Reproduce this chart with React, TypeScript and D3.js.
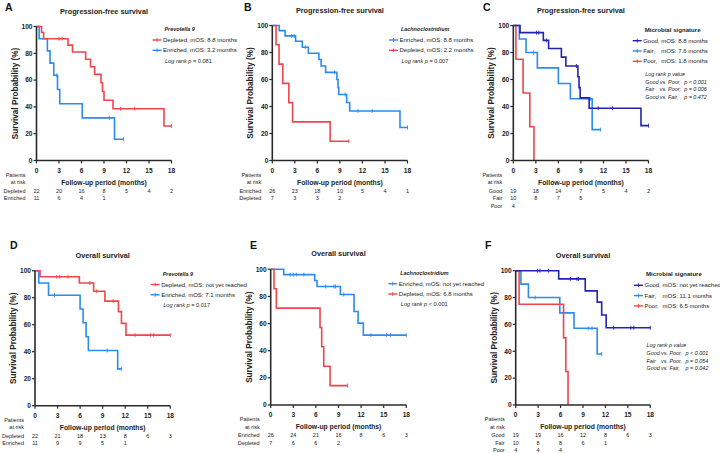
import React from 'react';
import * as d3 from 'd3';

type Pt = [number, number];

const RED = '#f0454c';
const LBLUE = '#2a8cf0';
const DBLUE = '#2323b2';

const monthTicks = [0, 3, 6, 9, 12, 15, 18];
const survTicks = [0, 20, 40, 60, 80, 100];

// A: PFS, Prevotella 9
const aDepletedSteps: Pt[] = [[0, 100], [0.67, 95.5], [0.95, 90.9], [4.2, 86.1], [4.8, 81], [6.55, 75.6], [7.2, 70], [7.75, 64.3], [8.6, 58], [8.8, 51.5], [9.0, 45], [10.2, 38.6], [17.0, 25.7]];
const aDepletedCensor = [3.0, 3.4, 11.2, 13.1, 18];
const aEnrichedSteps: Pt[] = [[0, 100], [0.35, 90.9], [1.45, 81.8], [1.8, 72.7], [2.3, 63.6], [2.8, 53], [3.1, 42.4], [6.1, 31.8], [10.4, 15.9]];
const aEnrichedCensor = [2.7, 9.7, 11.6];
const aRiskDepleted = [22, 20, 16, 8, 5, 4, 2];
const aRiskEnriched = [11, 6, 4, 1];

// B: PFS, Lachnoclostridium
const bEnrichedSteps: Pt[] = [[0, 100], [0.93, 96.2], [1.7, 92.3], [3.1, 88.3], [4.0, 83.9], [4.8, 79.5], [6.2, 74.8], [6.5, 70], [7.1, 65.3], [8.6, 60], [8.75, 54], [8.85, 48.9], [9.9, 43], [10.3, 36.7], [17.0, 24.5]];
const bEnrichedCensor = [2.6, 2.9, 4.4, 8.3, 9.7, 11.4, 13.3, 18];
const bDepletedSteps: Pt[] = [[0, 100], [0.5, 85.7], [0.9, 71.4], [1.4, 57.1], [2.2, 42.9], [2.7, 28.6], [7.7, 14.3]];
const bDepletedCensor = [10.2];
const bRiskEnriched = [26, 23, 18, 10, 5, 4, 1];
const bRiskDepleted = [7, 3, 3, 2];

// C: PFS, Microbial signature
const cGoodSteps: Pt[] = [[0, 100], [0.9, 94.7], [4.0, 89], [4.7, 83], [6.4, 76.6], [7.0, 70], [8.6, 62], [8.75, 54], [8.9, 46.4], [10.1, 38.7], [17.0, 25.8]];
const cGoodCensor = [3.1, 3.4, 4.4, 8.4, 11.3, 13.2, 18];
const cFairSteps: Pt[] = [[0, 100], [0.8, 90], [1.7, 80], [3.2, 68.6], [6.0, 57], [7.6, 45.7], [10.5, 22.9]];
const cFairCensor = [2.7, 10.3, 11.6];
const cPoorSteps: Pt[] = [[0, 100], [0.35, 75], [1.3, 50], [2.2, 25], [2.75, 0]];
const cPoorCensor: number[] = [];
const cRiskGood = [19, 18, 14, 7, 5, 4, 2];
const cRiskFair = [10, 8, 7, 5];
const cRiskPoor = [4];

// D: OS, Prevotella 9
const dDepletedSteps: Pt[] = [[0, 100], [0.67, 95.5], [5.9, 90.9], [7.8, 84.8], [9.3, 77.5], [11.1, 69.7], [11.5, 61], [12.1, 52.3]];
const dDepletedCensor = [2.9, 3.3, 4.4, 7.3, 8.2, 10.4, 13.3, 15.4, 15.8, 18];
const dEnrichedSteps: Pt[] = [[0, 100], [0.5, 90.9], [1.8, 81.8], [6.0, 71.6], [6.4, 61.4], [6.8, 51.1], [7.1, 40.9], [11.0, 27.3]];
const dEnrichedCensor = [2.6, 9.6, 11.5];
const dRiskDepleted = [22, 21, 18, 13, 8, 6, 3];
const dRiskEnriched = [11, 9, 9, 5, 1];

// E: OS, Lachnoclostridium
const eEnrichedSteps: Pt[] = [[0, 100], [1.73, 96.1], [5.84, 91.7], [6.15, 87.3], [9.25, 81.4], [11.06, 68.9], [11.6, 60.3], [12.3, 51.5]];
const eEnrichedCensor = [2.6, 3.0, 3.4, 4.4, 7.3, 8.4, 8.6, 9.7, 13.3, 15.35, 15.9, 18];
const eDepletedSteps: Pt[] = [[0, 100], [0.44, 85.7], [0.75, 71.4], [6.55, 57.1], [6.77, 42.9], [7.04, 28.6], [7.88, 14.3]];
const eDepletedCensor = [10.2];
const eRiskEnriched = [26, 24, 21, 16, 8, 6, 3];
const eRiskDepleted = [7, 6, 6, 2];

// F: OS, Microbial signature
const fGoodSteps: Pt[] = [[0, 100], [5.75, 93.9], [9.3, 85], [10.9, 76.6], [11.5, 67], [12.1, 57.5]];
const fGoodCensor = [2.9, 3.25, 4.4, 7.3, 8.2, 8.4, 13.1, 15.4, 15.8, 18];
const fFairSteps: Pt[] = [[0, 100], [0.7, 90], [1.7, 80], [5.9, 68.6], [7.8, 57.1], [10.9, 38]];
const fFairCensor = [2.6, 9.7, 10.2, 11.5];
const fPoorSteps: Pt[] = [[0, 100], [0.45, 75], [6.4, 50], [6.7, 25], [7.0, 0]];
const fPoorCensor: number[] = [];
const fRiskGood = [19, 19, 16, 12, 8, 6, 3];
const fRiskFair = [10, 8, 8, 6, 1];
const fRiskPoor = [4, 4, 4];

type Series = { name: string; mos: string; color: string; steps: Pt[]; censor: number[] };
type Panel = {
  letter: string; title: string; group: string; groupItalic: boolean;
  series: Series[]; drawOrder: number[];
  logRank?: string; logRows?: string[][];
  risk: { name: string; values: number[] }[];
  x0: number; x1: number; yTop: number; yBot: number;
  lx: number; ly: number; letterX: number; letterY: number; logY?: number; aligned: boolean;
};

const panels: Panel[] = [
  {
    letter: 'A', title: 'Progression-free survival', group: 'Prevotella 9', groupItalic: true,
    series: [
      { name: 'Depleted,', mos: 'mOS: 8.8 months', color: RED, steps: aDepletedSteps, censor: aDepletedCensor },
      { name: 'Enriched,', mos: 'mOS: 3.2 months', color: LBLUE, steps: aEnrichedSteps, censor: aEnrichedCensor },
    ], drawOrder: [1, 0],
    logRank: '= 0.081',
    risk: [{ name: 'Depleted', values: aRiskDepleted }, { name: 'Enriched', values: aRiskEnriched }],
    x0: 36.5, x1: 171.5, yTop: 26.5, yBot: 160.5, lx: 152.5, ly: 31, letterX: 5, letterY: 10.5, aligned: false,
  },
  {
    letter: 'B', title: 'Progression-free survival', group: 'Lachnoclostridium', groupItalic: true,
    series: [
      { name: 'Enriched,', mos: 'mOS: 8.8 months', color: LBLUE, steps: bEnrichedSteps, censor: bEnrichedCensor },
      { name: 'Depleted,', mos: 'mOS: 2.2 months', color: RED, steps: bDepletedSteps, censor: bDepletedCensor },
    ], drawOrder: [0, 1],
    logRank: '= 0.007',
    risk: [{ name: 'Enriched', values: bRiskEnriched }, { name: 'Depleted', values: bRiskDepleted }],
    x0: 272.3, x1: 407.5, yTop: 25.5, yBot: 160.5, lx: 389, ly: 31, letterX: 244, letterY: 10.5, aligned: false,
  },
  {
    letter: 'C', title: 'Progression-free survival', group: 'Microbial signature', groupItalic: false,
    series: [
      { name: 'Good,', mos: 'mOS: 8.8 months', color: DBLUE, steps: cGoodSteps, censor: cGoodCensor },
      { name: 'Fair,', mos: 'mOS: 7.6 months', color: LBLUE, steps: cFairSteps, censor: cFairCensor },
      { name: 'Poor,', mos: 'mOS: 1.8 months', color: RED, steps: cPoorSteps, censor: cPoorCensor },
    ], drawOrder: [1, 2, 0],
    logRows: [['Good', 'vs. Poor,', 'p < 0.001'], ['Fair', 'vs. Poor;', 'p = 0.006'], ['Good', 'vs. Fair,', 'p = 0.472']],
    risk: [{ name: 'Good', values: cRiskGood }, { name: 'Fair', values: cRiskFair }, { name: 'Poor', values: cRiskPoor }],
    x0: 513.3, x1: 648.5, yTop: 25.5, yBot: 160.5, lx: 632.7, ly: 31.7, letterX: 483, letterY: 10.5, logY: 75.5, aligned: true,
  },
  {
    letter: 'D', title: 'Overall survival', group: 'Prevotella 9', groupItalic: true,
    series: [
      { name: 'Depleted,', mos: 'mOS: not yet reached', color: RED, steps: dDepletedSteps, censor: dDepletedCensor },
      { name: 'Enriched,', mos: 'mOS: 7.1 months', color: LBLUE, steps: dEnrichedSteps, censor: dEnrichedCensor },
    ], drawOrder: [1, 0],
    logRank: '= 0.017',
    risk: [{ name: 'Depleted', values: dRiskDepleted }, { name: 'Enriched', values: dRiskEnriched }],
    x0: 35, x1: 170.3, yTop: 270.7, yBot: 405.7, lx: 150.7, ly: 275.5, letterX: 10, letterY: 249, aligned: false,
  },
  {
    letter: 'E', title: 'Overall survival', group: 'Lachnoclostridium', groupItalic: true,
    series: [
      { name: 'Enriched,', mos: 'mOS: not yet reached', color: LBLUE, steps: eEnrichedSteps, censor: eEnrichedCensor },
      { name: 'Depleted,', mos: 'mOS: 6.8 months', color: RED, steps: eDepletedSteps, censor: eDepletedCensor },
    ], drawOrder: [0, 1],
    logRank: '< 0.001',
    risk: [{ name: 'Enriched', values: eRiskEnriched }, { name: 'Depleted', values: eRiskDepleted }],
    x0: 270.7, x1: 406.3, yTop: 269.3, yBot: 405, lx: 388.3, ly: 274.7, letterX: 250, letterY: 249, aligned: false,
  },
  {
    letter: 'F', title: 'Overall survival', group: 'Microbial signature', groupItalic: false,
    series: [
      { name: 'Good,', mos: 'mOS: not yet reached', color: DBLUE, steps: fGoodSteps, censor: fGoodCensor },
      { name: 'Fair,', mos: 'mOS: 11.1 months', color: LBLUE, steps: fFairSteps, censor: fFairCensor },
      { name: 'Poor,', mos: 'mOS: 6.5 months', color: RED, steps: fPoorSteps, censor: fPoorCensor },
    ], drawOrder: [1, 2, 0],
    logRows: [['Good', 'vs. Poor,', 'p < 0.001'], ['Fair', 'vs. Poor,', 'p = 0.054'], ['Good', 'vs. Fair,', 'p = 0.042']],
    risk: [{ name: 'Good', values: fRiskGood }, { name: 'Fair', values: fRiskFair }, { name: 'Poor', values: fRiskPoor }],
    x0: 515.7, x1: 650.3, yTop: 270.7, yBot: 405, lx: 634, ly: 276.3, letterX: 485, letterY: 249, logY: 347, aligned: true,
  },
];

const FONT = '"Liberation Sans", Arial, Helvetica, sans-serif';
const TXT = '#222';
const AXIS = '#2a2a2a';

function stepValue(steps: Pt[], t: number): number {
  let v = steps[0][1];
  for (const [st, s] of steps) if (st <= t) v = s;
  return v;
}

function PanelView({ p }: { p: Panel }) {
  const x = d3.scaleLinear().domain([0, 18]).range([p.x0, p.x1]);
  const y = d3.scaleLinear().domain([0, 100]).range([p.yBot, p.yTop]);
  const line = d3.line<Pt>().x(d => x(d[0])).y(d => y(d[1])).curve(d3.curveStepAfter);
  const cx = (p.x0 + p.x1) / 2;
  const cy = (p.yTop + p.yBot) / 2;
  const textX = p.lx + 10.5;
  return (
    <g fontFamily={FONT}>
      <text x={p.letterX} y={p.letterY} fontSize={10.5} fontWeight="bold" fill="#111">{p.letter}</text>
      <text x={cx} y={p.yTop - 13} fontSize={7.3} fontWeight="bold" textAnchor="middle" fill={TXT}>{p.title}</text>
      {p.drawOrder.map(i => {
        const s = p.series[i];
        const last = s.steps[s.steps.length - 1];
        const end = Math.max(last[0], ...(s.censor.length ? s.censor : [last[0]]));
        const pts: Pt[] = [...s.steps];
        if (end > last[0]) pts.push([end, last[1]]);
        return (
          <g key={i}>
            <path d={line(pts) || ''} fill="none" stroke={s.color} strokeWidth={1.6} />
            {s.censor.map((t, k) => (
              <line key={k} x1={x(t)} x2={x(t)} y1={y(stepValue(s.steps, t)) - 2} y2={y(stepValue(s.steps, t)) + 2}
                stroke={s.color} strokeWidth={0.9} />
            ))}
          </g>
        );
      })}
      <line x1={p.x0} x2={p.x0} y1={p.yTop} y2={p.yBot} stroke={AXIS} strokeWidth={1.6} />
      <line x1={p.x0} x2={p.x1} y1={p.yBot} y2={p.yBot} stroke={AXIS} strokeWidth={1.6} />
      {survTicks.map(v => (
        <g key={'y' + v}>
          <line x1={p.x0 - 3} x2={p.x0} y1={y(v)} y2={y(v)} stroke={AXIS} strokeWidth={1.2} />
          <text x={p.x0 - 4} y={y(v)} dy="0.35em" fontSize={6.6} fontWeight="bold" textAnchor="end" fill={TXT}>{v}</text>
        </g>
      ))}
      {monthTicks.map(v => (
        <g key={'x' + v}>
          <line x1={x(v)} x2={x(v)} y1={p.yBot} y2={p.yBot + 3} stroke={AXIS} strokeWidth={1.2} />
          <text x={x(v)} y={p.yBot + 12} fontSize={6.6} fontWeight="bold" textAnchor="middle" fill={TXT}>{v}</text>
        </g>
      ))}
      <text transform={`translate(${p.x0 - 21.7},${cy}) rotate(-90)`} dy="0.35em" fontSize={8.2} fontWeight="bold" textAnchor="middle" fill={TXT}>Survival Probability (%)</text>
      <text x={cx} y={p.yBot + 24} fontSize={6.8} fontWeight="bold" textAnchor="middle" fill={TXT}>Follow-up period (months)</text>
      <text x={p.x0 - 11} y={p.yBot + 16} fontSize={5.5} textAnchor="end" fill={TXT}>Patients</text>
      <text x={p.x0 - 11} y={p.yBot + 23.5} fontSize={5.5} textAnchor="end" fill={TXT}>at risk</text>
      {p.risk.map((r, ri) => (
        <g key={r.name}>
          <text x={p.x0 - 11} y={p.yBot + 32 + ri * 7.5} fontSize={5.5} textAnchor="end" fill={TXT}>{r.name}</text>
          {r.values.map((v, vi) => (
            <text key={vi} x={x(monthTicks[vi])} y={p.yBot + 32 + ri * 7.5} fontSize={5.5} textAnchor="middle" fill={TXT}>{v}</text>
          ))}
        </g>
      ))}
      <text x={p.lx + 12} y={p.ly} fontSize={p.groupItalic ? 5.4 : 6.1} fontWeight="bold" fontStyle={p.groupItalic ? 'italic' : 'normal'} fill={TXT}>{p.group}</text>
      {p.series.map((s, i) => {
        const by = p.ly + 11 + i * 10.3;
        const ly = by - 2;
        return (
          <g key={'l' + i}>
            <line x1={p.lx} x2={p.lx + 9} y1={ly} y2={ly} stroke={s.color} strokeWidth={1.4} />
            <line x1={p.lx + 4.5} x2={p.lx + 4.5} y1={ly - 2} y2={ly + 2} stroke={s.color} strokeWidth={0.9} />
            {p.aligned ? (
              <>
                <text x={textX} y={by} fontSize={6} fill={TXT}>{s.name}</text>
                <text x={textX + 18} y={by} fontSize={6} fill={TXT}>{s.mos}</text>
              </>
            ) : (
              <text x={textX} y={by} fontSize={6} fill={TXT}>{s.name + ' ' + s.mos}</text>
            )}
          </g>
        );
      })}
      {p.logRank && (
        <text x={p.lx + 12.5} y={p.ly + 11 + p.series.length * 10.3} fontSize={5.6} fill={TXT}>
          <tspan fontStyle="italic">Log rank p</tspan> {p.logRank}
        </text>
      )}
      {p.logRows && p.logY !== undefined && (
        <g fontSize={5.4} fontStyle="italic" fill={TXT}>
          <text x={p.lx + 12.5} y={p.logY}>Log rank p value</text>
          {p.logRows.map((r, i) => (
            <g key={'lr' + i}>
              <text x={p.lx + 12.5} y={p.logY + 8 + i * 7.6}>{r[0]}</text>
              <text x={p.lx + 12.5 + 14.5} y={p.logY + 8 + i * 7.6}>{r[1]}</text>
              <text x={p.lx + 12.5 + 39} y={p.logY + 8 + i * 7.6}>{r[2]}</text>
            </g>
          ))}
        </g>
      )}
    </g>
  );
}

export default function App() {
  return (
    <svg width={720} height={453} viewBox="0 0 720 453"
      style={{ position: 'absolute', left: 0, top: 0, display: 'block', background: '#fff' }}>
      <rect x={0} y={0} width={720} height={453} fill="#fff" />
      {panels.map(p => <PanelView key={p.letter} p={p} />)}
    </svg>
  );
}
